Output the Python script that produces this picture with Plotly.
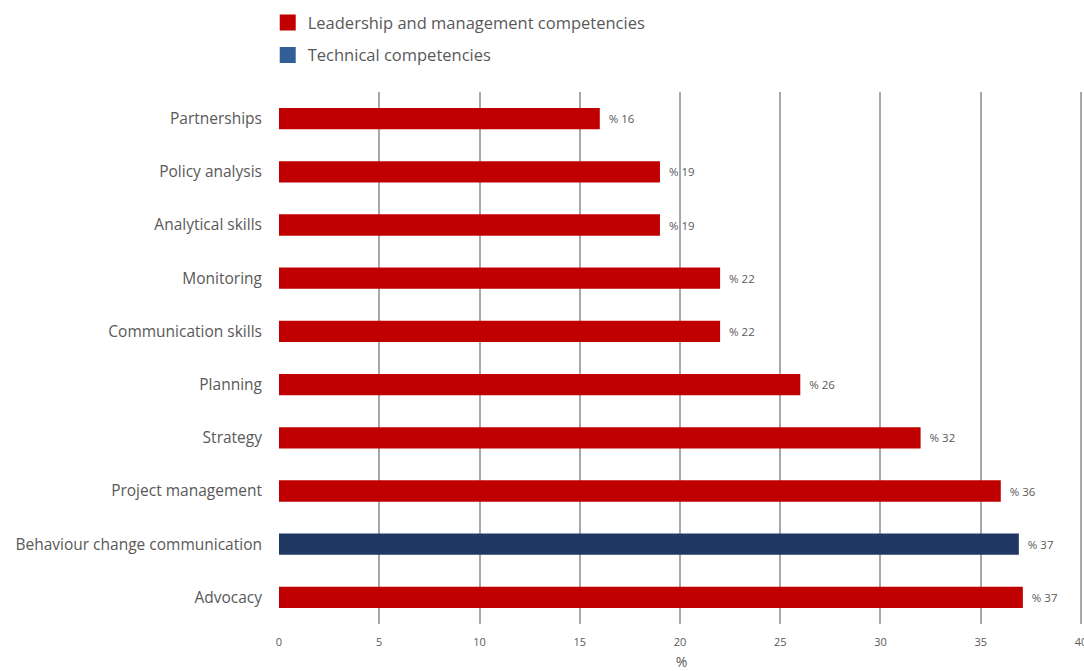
import plotly.graph_objects as go

categories = ["Partnerships", "Policy analysis", "Analytical skills", "Monitoring",
              "Communication skills", "Planning", "Strategy", "Project management",
              "Behaviour change communication", "Advocacy"]
values = [16, 19, 19, 22, 22, 26, 32, 36, 36.9, 37.1]
technical = ["Behaviour change communication"]
series_names = ["Leadership and management competencies", "Technical competencies"]
x_ticks = [0, 5, 10, 15, 20, 25, 30, 35, 40]

RED = "#c00000"
NAVY = "#1f3864"
LEG_BLUE = "#335f99"
TXT = "#595959"
FONT = "Open Sans"

lead_y = [c for c in categories if c not in technical]
lead_x = [v for c, v in zip(categories, values) if c not in technical]
tech_y = [c for c in categories if c in technical]
tech_x = [v for c, v in zip(categories, values) if c in technical]

fig = go.Figure()
for ys, xs, col in [(lead_y, lead_x, RED), (tech_y, tech_x, NAVY)]:
    fig.add_trace(go.Bar(
        y=ys, x=xs, orientation="h", marker=dict(color=col, line=dict(width=0)),
        width=0.4, showlegend=False, cliponaxis=False,
        text=["  % " + str(round(v)) for v in xs], textposition="outside",
        textfont=dict(size=11.5, color=TXT, family=FONT),
    ))

for name, col, grp in [(series_names[0], RED, "a"), (series_names[1], LEG_BLUE, "b")]:
    fig.add_trace(go.Scatter(
        x=[None], y=[None], mode="markers", name=name, legendgroup=grp,
        marker=dict(symbol="square", size=17, color=col),
    ))

fig.update_layout(
    width=1084, height=671,
    margin=dict(l=279, r=0, t=92, b=47, autoexpand=False),
    paper_bgcolor="white", plot_bgcolor="white",
    barmode="overlay",
    font=dict(family=FONT, color=TXT),
    legend=dict(x=-0.014, y=1.163, xanchor="left", yanchor="top",
                font=dict(size=16.5, color=TXT), tracegroupgap=8,
                itemsizing="trace", bgcolor="rgba(0,0,0,0)", itemwidth=30),
    xaxis=dict(range=[0, 40.15], tickvals=x_ticks, showgrid=True, gridcolor="#a8a8a8",
               gridwidth=1.5, zeroline=False, showline=False,
               ticklabelstandoff=10, automargin=False, ticklabeloverflow="allow",
               tickfont=dict(size=11, color=TXT),
               title=dict(text="%", font=dict(size=14, color=TXT), standoff=12)),
    yaxis=dict(categoryorder="array", categoryarray=categories[::-1],
               showgrid=False, zeroline=False, showline=False, automargin=False,
               ticks="", ticklabelstandoff=16, tickfont=dict(size=15.5, color=TXT)),
)
fig.write_html("out.html")
